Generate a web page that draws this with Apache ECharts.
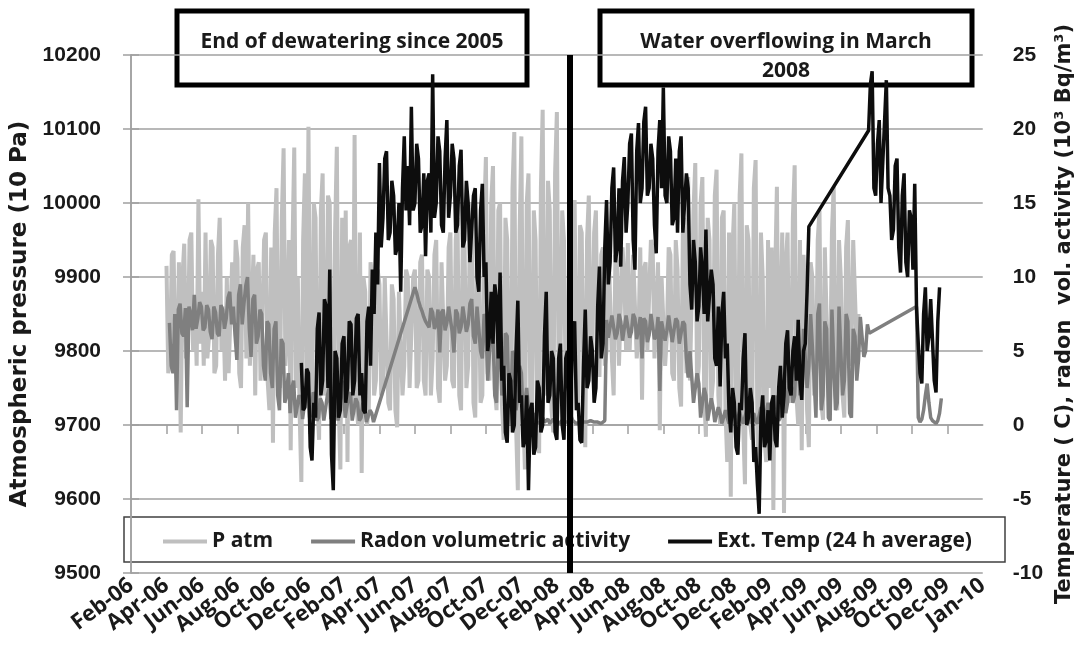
<!DOCTYPE html>
<html>
<head>
<meta charset="utf-8">
<script src="https://cdn.jsdelivr.net/npm/echarts@6/dist/echarts.min.js"></script>
<style>
  html, body { margin: 0; padding: 0; background: #fff; }
  #chartBox { width: 1083px; height: 656px; }
</style>
</head>
<body>
<div id="chartBox"></div>
<script>
// x unit = days after the Feb-06 tick, one tick every 60 days
var xLabels = ['Feb-06', 'Apr-06', 'Jun-06', 'Aug-06', 'Oct-06', 'Dec-06', 'Feb-07', 'Apr-07', 'Jun-07', 'Aug-07',
  'Oct-07', 'Dec-07', 'Feb-08', 'Apr-08', 'Jun-08', 'Aug-08', 'Oct-08', 'Dec-08', 'Feb-09', 'Apr-09',
  'Jun-09', 'Aug-09', 'Oct-09', 'Dec-09', 'Jan-10'];
var tickDays = 60;
var stepDays = 3;

// P atm (10 Pa), one value every 3 days from day 60
var patmStart = 60;
var patmVals = [
  9915, 9770, 9790, 9930, 9935, 9780, 9760, 9920, 9690, 9900, 9945, 9790, 9800, 9950, 9960, 9800, 9870, 9780, 10005, 9810,
  9880, 9780, 9960, 9790, 9820, 9950, 9940, 9770, 9780, 9930, 9980, 9800, 9860, 9760, 9900, 9770, 9770, 9920, 9840, 9950,
  9925, 9770, 9750, 9940, 9970, 9790, 10000, 9780, 9780, 9930, 9740, 9910, 9920, 9760, 9840, 9950, 9960, 9760, 9720, 9940,
  9676, 9960, 10020, 9760, 9750, 9980, 10074, 9780, 9830, 9950, 9666, 9940, 10075, 9750, 9900, 9720, 9623, 9950, 10040, 9760,
  10103, 9760, 9720, 10000, 9980, 9730, 9680, 9990, 10040, 9740, 9760, 10010, 10000, 9720, 9700, 9960, 10076, 9730, 9640, 9980,
  9760, 9990, 9650, 9940, 9950, 9720, 10092, 9730, 9700, 9960, 9635, 9900, 9880, 9700, 9720, 9920, 9900, 9740, 9760, 9910,
  9890, 9740, 9760, 9900, 9900, 9730, 9720, 9890, 9870, 9720, 9697, 9880, 9880, 9740, 9780, 9910, 9900, 9750, 9750, 9900,
  9910, 9750, 9760, 9920, 9930, 9760, 9740, 9910, 9900, 9740, 9790, 9930, 9950, 9750, 9730, 9920, 9920, 9760, 9780, 9940,
  9960, 9760, 9750, 9950, 9980, 9740, 9720, 9960, 9940, 9750, 9780, 9970, 10000, 9730, 9710, 9940, 9900, 9730, 9740, 9980,
  10062, 9770, 9760, 10000, 10050, 9750, 9720, 9990, 10000, 9730, 9680, 9980, 9950, 9720, 9700, 10020, 10096, 9700, 9612, 9960,
  10090, 9720, 9640, 10000, 10040, 9740, 9700, 9990, 9950, 9700, 9662, 10020, 10126, 9760, 9740, 10030, 9990, 9720, 9690, 10040,
  10123, 9760, 9780, 9990, 9950, 9740, 9700, 9960, 9581, 9900, 10004, 9760, 9720, 9970, 9960, 9760, 9670, 9950, 10010, 9790,
  9800, 9960, 9990, 9790, 9765, 9930, 9940, 9780, 9800, 9950, 9950, 9790, 9740, 9930, 9920, 9780, 9780, 9940, 9900, 9800,
  9946, 9800, 9800, 9930, 9930, 9790, 9820, 9940, 9734, 9910, 9920, 9800, 9800, 9950, 9940, 9790, 9790, 9920, 9693, 9900,
  9900, 9780, 9820, 9940, 9930, 9770, 9760, 9950, 9910, 9750, 9725, 9960, 9980, 9770, 10035, 9760, 9760, 9990, 10054, 9750,
  9780, 10000, 10035, 9740, 9684, 9980, 9950, 9730, 9760, 10010, 10045, 9740, 9700, 9980, 9990, 9720, 9650, 9960, 9603, 9940,
  10000, 9720, 9700, 10010, 10067, 9700, 9620, 9970, 9950, 9700, 9680, 10020, 10058, 9690, 9608, 9960, 9900, 9680, 9650, 9950,
  9750, 9940, 9585, 9900, 10022, 9720, 9720, 9960, 9581, 9920, 9960, 9730, 9750, 9980, 10051, 9740, 9700, 9950, 9666, 9930,
  9880, 9720, 9670, 9920, 9900, 9740, 9760, 9950, 9990, 9730, 9707, 9940, 9940, 9750, 9760, 9960, 10022, 9740, 9720, 9950,
  9900, 9740, 9710, 9940, 9977, 9780, 9800, 9950, 9950, 9800, 9850
];

// radon (10^3 Bq/m3), three runs; the gaps between runs are drawn as straight lines
var radonStart1 = 65;
var radonVals1 = [
  6.9, 4.0, 3.5, 7.5, 1.0, 7.8, 8.2, 6.2, 6.0, 7.9, 1.2, 8.0, 7.5, 6.4, 8.8, 6.5, 7.2, 8.3, 8.0, 6.4,
  6.6, 8.1, 7.8, 6.3, 5.8, 8.0, 7.6, 6.2, 6.0, 8.1, 7.8, 6.5, 7.2, 8.6, 9.0, 6.8, 8.0, 6.0, 4.4, 8.8,
  9.5, 6.8, 8.2, 9.4, 10.0, 6.5, 4.6, 8.5, 8.8, 5.5, 6.0, 7.8, 7.5, 4.0, 3.0, 7.0, 6.8, 3.5, 2.5, 6.5,
  7.0, 2.0, 1.0, 5.8, 5.5, 1.5, 2.0, 3.5, 0.8, 2.5, 3.0, 0.5, 0.5, 2.0, 1.8, 0.4, 0.3, 2.2, 3.5, 0.5,
  0.8, 2.2, 2.0, 0.3, 0.5, 1.8, 1.5, 0.3, 0.3, 2.0, 2.5, 0.4, 0.6, 2.0, 1.8, 0.3, 0.4, 2.4, 3.0, 0.5,
  0.6, 2.0, 2.2, 0.3, 0.4, 1.8, 1.5, 0.3, 0.5, 1.5, 1.2, 0.2, 0.3, 1.0, 0.8, 0.2, 0.2
];
var radonStart2 = 480;
var radonVals2 = [
  9.3, 8.9, 8.4, 8.0, 7.7, 7.3, 7.0, 6.8, 6.6, 7.9, 7.6, 6.5, 6.8, 7.8, 4.9, 7.6, 7.8, 6.4, 6.9, 8.0,
  7.9, 6.3, 4.9, 7.8, 7.5, 6.2, 6.6, 8.0, 8.0, 6.3, 6.8, 8.2, 8.5, 6.0, 5.5, 8.0, 8.0, 5.0, 4.5, 7.5,
  7.0, 3.0, 3.0, 6.8, 6.2, 2.0, 1.5, 6.0, 5.5, 2.0, 2.5, 6.2, 6.0, 1.5, 1.2, 5.0, 4.5, 1.0, 2.0, 4.0,
  3.5, 0.5, 0.5, 2.5, 1.0, 0.2, 0.2, 0.8,
  0.3, 0.2, 0.1, 0.3, 0.5, 0.2, 0.2, 0.4, 0.1, 0.2, 0.4, 0.2, 0.2, 0.1, 0.1, 0.3, 0.3, 0.2, 0.1, 0.2,
  0.6, 0.3, 0.2, 0.1, 0.1, 0.2, 0.3, 0.2, 0.1, 0.2, 0.2, 0.3, 0.4, 0.2, 0.1, 0.2, 0.2, 0.1, 0.1, 0.3,
  7.1, 5.9, 6.0, 7.4, 7.3, 5.8, 6.2, 7.5, 7.0, 5.7, 5.8, 7.4, 7.4, 5.9, 6.3, 7.5, 7.2, 5.8, 5.9, 7.3,
  4.5, 7.2, 7.0, 5.6, 6.1, 7.5, 7.5, 5.8, 6.0, 7.3, 2.3, 7.0, 7.1, 5.7, 6.4, 7.4, 7.3, 5.6, 5.6, 7.2,
  7.0, 5.5, 6.2, 7.0, 6.8, 4.5,
  3.2, 5.0, 5.0, 1.5, 1.5, 3.5, 2.8, 0.5, 0.5, 2.5, 2.0, 0.3, 0.3, 1.8, 1.2, 0.2, 0.2, 1.2, 0.8, 0.1,
  0.2, 1.0, 0.5, 0.1, 0.1, 1.2, 1.0, 0.1, 0.2, 0.9, 0.4, 0.1, 0.1, 1.0, 0.8, 0.1, 0.2, 0.8, 0.3, 0.1,
  0.1, 1.2, 0.6, 0.1, 0.2, 1.5, 1.5, 0.2, 0.3, 2.0, 2.0, 0.3, 0.5, 2.8, 3.0, 0.8,
  1.5, 4.0, 4.0, 1.5, 2.0, 5.0, 5.5, 2.0, 3.0, 6.5, 6.5, 2.5, 4.0, 7.5, 7.5, 3.0,
  0.5, 7.5, 8.2, 1.0, 2.0, 7.0, 6.5, 0.5, 0.3, 7.8, 7.8, 1.0, 1.5, 8.0, 8.0, 2.0, 3.0, 7.5, 7.0, 0.8,
  0.5, 6.5, 6.0, 3.0,
  4.4, 7.3, 7.3, 4.6, 5.0, 6.8, 6.2
];
var radonStart3 = 1328;
var radonVals3 = [8.0, 0.5, 0.2, 0.4, 1.0, 2.0, 2.8, 1.5, 0.5, 0.3, 0.2, 0.1, 0.3, 0.8, 1.8];

// Ext. temp (C, 24 h average), two runs
var tempStart1 = 288;
var tempVals1 = [
  4.2, 1.0, 1.2, 3.8, 3.5, -1.5, -2.4, 1.5, 0.5, 6.5, 7.6, 2.0, 3.0, 8.5, 8.0, 2.5, 10.5, -2.0, -4.4, 5.0,
  4.5, 0.5, 1.0, 5.5, 6.0, 1.5, 2.5, 7.0, 6.8, 2.0, 3.0, 7.2, 7.5, 2.0, 3.5, 1.0, 0.8, 7.0, 8.0, 4.0,
  10.5, 7.5, 13.0, 9.5, 17.7, 12.0, 14.0, 18.0, 18.5, 12.5, 13.0, 16.5, 15.5, 11.5, 12.0, 15.0, 9.0, 16.0, 19.5, 14.5,
  17.5, 13.5, 21.5, 14.5, 15.0, 19.0, 18.0, 13.0, 13.5, 17.0, 11.4, 16.5, 17.0, 13.0, 23.7, 14.0, 15.0, 19.5, 18.5, 13.5,
  13.0, 18.0, 20.6, 14.0, 15.5, 19.0, 18.0, 13.0, 13.5, 17.5, 18.6, 12.0, 12.5, 16.5, 15.0, 11.0, 11.0, 15.5, 16.0, 10.0,
  9.0, 14.5, 16.3, 10.0, 11.0, 5.0, 6.0, 9.0, 5.5, 9.5, 8.5, 4.5, 10.3, 3.0, 4.0, -0.5, -1.2, 3.5, 3.0, -0.5,
  0.0, 5.0, 8.4, 1.5, 2.0, -1.5, -1.0, 2.0, -4.4, 1.0, 1.5, -2.0, -1.5, 3.0, 2.5, -0.5, 0.0, 6.0, 9.0, 1.5,
  2.0, 5.0, 4.5, -0.5, -1.0, 4.5, 5.5, 0.0, -1.0, 4.5, 5.0, 1.0, 2.5, 6.5, 7.0, 1.0, 1.5, -1.0, -1.2, 4.0,
  7.8, 2.5, 3.0, 6.0, 5.0, 1.5, 2.5, 8.0, 10.7, 4.5, 5.5, 12.0, 15.2, 9.5, 11.0, 16.0, 17.4, 11.0, 12.0, 16.0,
  10.7, 16.5, 18.1, 13.0, 15.0, 19.0, 19.7, 12.5, 10.5, 18.5, 20.4, 15.0, 16.0, 20.5, 21.5, 15.5, 16.0, 19.0, 18.0, 13.5,
  11.6, 18.5, 20.6, 16.0, 22.8, 15.5, 15.0, 19.5, 18.5, 13.5, 14.0, 18.0, 13.0, 18.5, 19.5, 13.0, 13.0, 17.0, 16.0, 9.5,
  7.8, 12.5, 11.0, 7.0, 8.0, 12.0, 10.5, 7.5, 13.2, 7.0, 7.0, 10.5, 9.5, 4.5, 4.0, 8.0, 2.6, 7.5, 9.0, 4.5,
  5.5, 1.0, -0.5, 2.5, 1.5, -1.5, -2.0, 1.5, 1.0, 4.5, 6.2, 0.0, 0.5, 2.5, 1.5, -2.5, -1.5, -4.0, -6.0, 0.5,
  2.0, -1.5, -1.0, 1.0, -2.4, 1.5, 2.0, -1.0, -1.5, 2.5, 4.0, 0.5, 2.0, 5.5, 6.4, 2.5, 2.0, 5.0, 6.0, 3.0,
  7.1, 3.0, 1.7, 5.0, 5.5, 9.0, 13.4
];
var tempStart2 = 1247;
var tempVals2 = [
  19.9, 23.0, 23.9, 16.0, 15.5, 19.0, 20.6, 15.0, 15.0, 20.5, 23.3, 16.0, 15.5, 12.5, 13.2, 17.5, 18.0, 12.0, 10.3, 15.5,
  17.0, 11.0, 10.0, 14.5, 14.0, 10.5, 16.3, 8.0, 5.5, 3.5, 2.8, 7.5, 9.3, 5.0, 6.0, 8.5, 8.5, 3.0, 2.2, 7.0,
  9.3
];

var overflowDay = 742;

function toPoints(start, vals) {
  return vals.map(function (v, i) { return [start + i * stepDays, v]; });
}

var patmData = toPoints(patmStart, patmVals);
var radonData = toPoints(radonStart1, radonVals1)
  .concat(toPoints(radonStart2, radonVals2))
  .concat(toPoints(radonStart3, radonVals3));
var tempData = toPoints(tempStart1, tempVals1).concat(toPoints(tempStart2, tempVals2));

var myChart = echarts.init(document.getElementById('chartBox'));
var gridColor = '#a0a0a0';
var textColor = '#1a1a1a';
var nameFont = 'DejaVu Sans';

var xLabelStyle = {
  rotate: 37,
  margin: 10,
  interval: 0,
  fontFamily: 'Open Sans',
  fontWeight: 'bold',
  fontSize: 22,
  color: textColor
};

var option = {
  animation: false,
  grid: { left: 131, right: 91, top: 55, bottom: 83 },
  legend: {
    left: 158,
    top: 526,
    itemWidth: 44,
    itemHeight: 4,
    itemGap: 38,
    icon: 'rect',
    textStyle: { fontFamily: 'Open Sans', fontWeight: 'bold', fontSize: 21, color: textColor },
    data: ['P atm', 'Radon volumetric activity', 'Ext. Temp (24 h average)']
  },
  xAxis: [
    {
      type: 'value',
      min: 0,
      max: tickDays * (xLabels.length - 1),
      interval: tickDays,
      axisLine: { lineStyle: { color: gridColor, width: 1.5 } },
      axisTick: { length: 9, lineStyle: { color: gridColor, width: 1.5 } },
      splitLine: { show: false },
      axisLabel: Object.assign({}, xLabelStyle, {
        showMinLabel: false,
        showMaxLabel: false,
        formatter: function (v) { return xLabels[Math.round(v / tickDays)]; }
      })
    },
    {
      // end labels only, so the overlap check on the first axis keeps every label
      type: 'value',
      position: 'bottom',
      min: 0,
      max: tickDays * (xLabels.length - 1),
      interval: tickDays,
      axisLine: { show: false },
      axisTick: { show: false },
      splitLine: { show: false },
      axisLabel: Object.assign({}, xLabelStyle, {
        showMinLabel: true,
        showMaxLabel: true,
        formatter: function (v) {
          var i = Math.round(v / tickDays);
          return (i === 0 || i === xLabels.length - 1) ? xLabels[i] : '';
        }
      })
    }
  ],
  yAxis: [
    {
      type: 'value',
      min: 9500,
      max: 10200,
      interval: 100,
      name: 'Atmospheric pressure (10 Pa)',
      nameLocation: 'middle',
      nameGap: 91,
      nameTextStyle: { fontFamily: nameFont, fontWeight: 'bold', fontSize: 23, color: textColor },
      axisLine: { show: true, lineStyle: { color: gridColor, width: 1.5 } },
      axisTick: { show: true, length: 8, lineStyle: { color: gridColor, width: 1.5 } },
      splitLine: { lineStyle: { color: gridColor, width: 1.5 } },
      axisLabel: {
        margin: 30, fontFamily: 'Liberation Sans', fontWeight: 'bold', fontSize: 21, color: textColor,
        formatter: function (v) { return String(v); }
      }
    },
    {
      type: 'value',
      min: -10,
      max: 25,
      interval: 5,
      position: 'right',
      name: 'Temperature ( C), radon  vol. activity (10³ Bq/m³)',
      nameLocation: 'middle',
      nameRotate: 90,
      nameGap: 62,
      nameTextStyle: { fontFamily: nameFont, fontWeight: 'bold', fontSize: 21, color: textColor },
      axisLine: { show: true, lineStyle: { color: gridColor, width: 1.5 } },
      axisTick: { show: true, length: 8, lineStyle: { color: gridColor, width: 1.5 } },
      splitLine: { show: false },
      axisLabel: { margin: 30, fontFamily: 'Liberation Sans', fontWeight: 'bold', fontSize: 21, color: textColor }
    }
  ],
  series: [
    {
      name: 'P atm',
      type: 'line',
      yAxisIndex: 0,
      symbol: 'none',
      data: patmData,
      itemStyle: { color: '#bfbfbf' },
      lineStyle: { color: '#bfbfbf', width: 4 }
    },
    {
      name: 'Radon volumetric activity',
      type: 'line',
      yAxisIndex: 1,
      symbol: 'none',
      data: radonData,
      itemStyle: { color: '#7f7f7f' },
      lineStyle: { color: '#7f7f7f', width: 3.5 }
    },
    {
      name: 'Ext. Temp (24 h average)',
      type: 'line',
      yAxisIndex: 1,
      symbol: 'none',
      data: tempData,
      itemStyle: { color: '#0d0d0d' },
      lineStyle: { color: '#0d0d0d', width: 3.5 },
      markLine: {
        silent: true,
        symbol: ['none', 'none'],
        label: { show: false },
        lineStyle: { color: '#000', width: 6, type: 'solid' },
        data: [{ xAxis: overflowDay }]
      }
    }
  ],
  graphic: [
    {
      type: 'rect',
      shape: { x: 124, y: 517, width: 881, height: 45 },
      style: { fill: 'none', stroke: '#404040', lineWidth: 1.5 }
    },
    {
      type: 'rect',
      shape: { x: 177, y: 11, width: 350, height: 74 },
      style: { fill: 'none', stroke: '#000', lineWidth: 5 }
    },
    {
      type: 'text',
      x: 352,
      y: 42,
      style: {
        text: 'End of dewatering since 2005',
        font: 'bold 21px "Open Sans"',
        fill: textColor,
        align: 'center',
        verticalAlign: 'middle'
      }
    },
    {
      type: 'rect',
      shape: { x: 600, y: 11, width: 372, height: 74 },
      style: { fill: 'none', stroke: '#000', lineWidth: 5 }
    },
    {
      type: 'text',
      x: 786,
      y: 42,
      style: {
        text: 'Water overflowing in March',
        font: 'bold 21px "Open Sans"',
        fill: textColor,
        align: 'center',
        verticalAlign: 'middle'
      }
    },
    {
      type: 'text',
      x: 786,
      y: 71,
      style: {
        text: '2008',
        font: 'bold 21px "Open Sans"',
        fill: textColor,
        align: 'center',
        verticalAlign: 'middle'
      }
    }
  ]
};
myChart.setOption(option);
</script>
</body>
</html>
